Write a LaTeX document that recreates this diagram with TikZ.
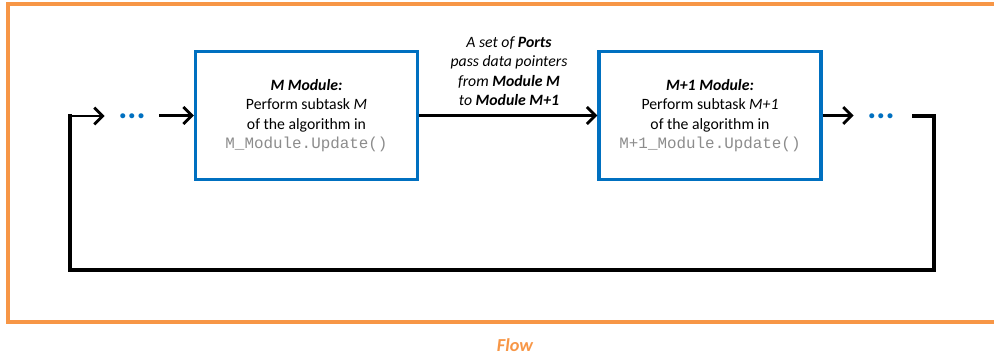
\documentclass[tikz,border=0pt]{standalone}
\usepackage{fontspec}
\setmainfont{Carlito}
\setmonofont{Liberation Mono}
\usetikzlibrary{arrows.meta}
\definecolor{flowor}{RGB}{247,150,70}
\definecolor{modblue}{RGB}{0,112,192}
\definecolor{codegray}{RGB}{140,140,140}
\begin{document}
\begin{tikzpicture}[x=0.025cm,y=-0.025cm,
  module/.style={draw=modblue,line width=2.4pt,minimum width=5.55cm,minimum height=3.2cm,align=center,font=\fontsize{11.2}{13.9}\selectfont},
  dots/.style={text=modblue,minimum width=1.35cm,inner sep=0pt,font=\fontsize{24}{24}\selectfont\bfseries},
  flowarrow/.style={line width=2pt,-{Straight Barb[length=6pt,width=12pt,line width=2pt]}},
  loopline/.style={line width=2.4pt}]
 \useasboundingbox (0,0) rectangle (994,360);
 \draw[flowor,line width=2.4pt] (8,4) rectangle (1010,322);
 \node[text=flowor,font=\fontsize{13}{15}\selectfont\bfseries\itshape] (flow) at (515,345) {Flow};
 % modules
 \node[module] (modM) at (306.5,115.5) {\textbf{\textit{M Module:}}\\Perform subtask \textit{M}\\of the algorithm in\\{\color{codegray}\ttfamily\fontsize{11.3}{13.9}\selectfont M\_Module.Update()}};
 \node[module] (modN) at (710,115.5) {\textbf{\textit{M+1 Module:}}\\Perform subtask \textit{M+1}\\of the algorithm in\\{\color{codegray}\ttfamily\fontsize{11.3}{13.9}\selectfont M+1\_Module.Update()}};
 \node[dots] (dotsL) at (132,116.5) {...};
 \node[dots] (dotsR) at (881,116.5) {...};
 \node[align=center,font=\fontsize{11.2}{13.8}\selectfont\itshape] (ports) at (509,71) {A set of \textbf{Ports}\\pass data pointers\\from \textbf{Module M}\\to \textbf{Module M+1}};
 \coordinate (retR) at (912,116);
 \coordinate (cR) at (934,116);
 \coordinate (cRB) at (934,270);
 \coordinate (cLB) at (70,270);
 \coordinate (cL) at (70,116);
 % connectors
 \draw[flowarrow] (dotsL.east |- modM) -- (modM);
 \draw[flowarrow] (modM) -- (modN);
 \draw[flowarrow] (modN) -- (dotsR.west |- modN);
 \draw[loopline,line join=miter] (retR) -- (cR) -- (cRB) -- (cLB) -- (cL) -- ++(2,0);
 \draw[flowarrow] (cL) -- (dotsL.west |- cL);
\end{tikzpicture}
\end{document}
